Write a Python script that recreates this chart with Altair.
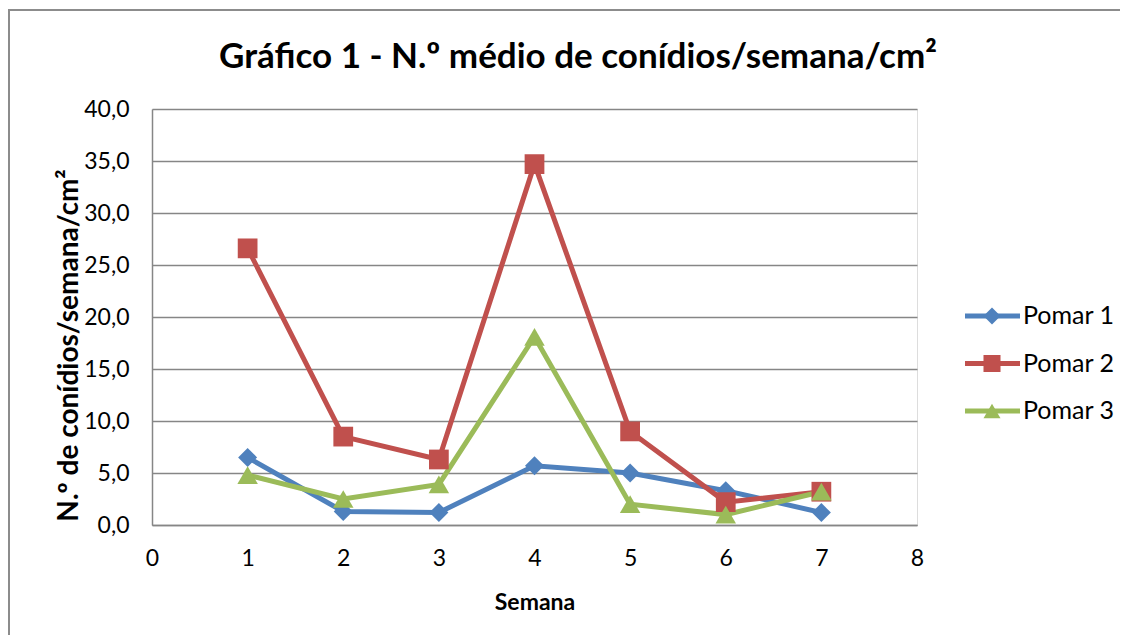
import altair as alt
import pandas as pd

weeks = [1, 2, 3, 4, 5, 6, 7]
series_names = ["Pomar 1", "Pomar 2", "Pomar 3"]
legend_order = [0, 1, 2]
pomar1 = [6.5, 1.3, 1.2, 5.7, 5.0, 3.3, 1.2]
pomar2 = [26.6, 8.5, 6.3, 34.7, 9.0, 2.2, 3.2]
pomar3 = [4.8, 2.5, 3.9, 18.1, 2.0, 1.0, 3.2]
colors = ["#4F81BD", "#C0504D", "#9BBB59"]
shapes = ["diamond", "square", "triangle-up"]
marker_sizes = [360, 420, 420]
x_ticks = [0, 1, 2, 3, 4, 5, 6, 7, 8]
y_ticks = [0, 5, 10, 15, 20, 25, 30, 35, 40]
title_text = ["Gráfico 1 - N.º médio de conídios/semana/cm²"]

rows = []
for name, vals in zip(series_names, [pomar1, pomar2, pomar3]):
    for w, v in zip(weeks, vals):
        rows.append({"Semana": w, "valor": v, "serie": name})
df = pd.DataFrame(rows)
leg_df = pd.DataFrame({"serie": series_names, "ordem": legend_order})
one = pd.DataFrame({"k": [0]})
title_df = pd.DataFrame({"t": title_text})

FONT = "Lato"
GRID = "#868686"

color_scale = alt.Scale(domain=series_names, range=colors)
shape_scale = alt.Scale(domain=series_names, range=shapes)
size_scale = alt.Scale(domain=series_names, range=marker_sizes)
x_scale = alt.Scale(domain=[0, 8], nice=False)
y_scale = alt.Scale(domain=[0, 40], nice=False)

x_enc = alt.X("Semana:Q", scale=x_scale,
              axis=alt.Axis(values=x_ticks, format="d", title="Semana", grid=False, ticks=False,
                            labelFlush=False,
                            labelFontSize=23, labelPadding=22, labelColor="#000",
                            titleFontSize=23, titleFontWeight="bold",
                            titleX=382.5, titleY=77, titleBaseline="middle", titleAlign="center",
                            titleColor="#000",
                            domainColor=GRID, domainWidth=1.5, labelFont=FONT, titleFont=FONT))
y_enc = alt.Y("valor:Q", scale=y_scale,
              axis=alt.Axis(values=y_ticks, title="N.º de conídios/semana/cm²",
                            labelExpr="replace(format(datum.value, '.1f'), '.', ',')",
                            grid=True, gridColor=GRID, gridWidth=1.5, ticks=False,
                            labelFontSize=23, labelPadding=23, labelColor="#000",
                            labelFlush=False,
                            titleFontSize=28, titleFontWeight="bold",
                            titleX=-83, titleY=236, titleBaseline="middle", titleAlign="center",
                            titleColor="#000",
                            domainColor=GRID, domainWidth=1.5, labelFont=FONT, titleFont=FONT))

lines = alt.Chart(df).mark_line(strokeWidth=5).encode(
    x=x_enc, y=y_enc,
    color=alt.Color("serie:N", scale=color_scale, legend=None),
    detail="serie:N",
)
points = alt.Chart(df).mark_point(filled=True, opacity=1).encode(
    x=alt.X("Semana:Q", scale=x_scale),
    y=alt.Y("valor:Q", scale=y_scale),
    color=alt.Color("serie:N", scale=color_scale, legend=None),
    shape=alt.Shape("serie:N", scale=shape_scale, legend=None),
    size=alt.Size("serie:N", scale=size_scale, legend=None),
)
main = alt.layer(lines, points)

leg_y = alt.Y("ordem:Q", scale=alt.Scale(domain=[0, 2], range=[207, 302], nice=False, zero=False),
              axis=None)
leg_rule = alt.Chart(leg_df).mark_rule(strokeWidth=5).encode(
    x=alt.value(813), x2=alt.value(868), y=leg_y,
    color=alt.Color("serie:N", scale=color_scale, legend=None),
)
leg_pt = alt.Chart(leg_df).mark_point(filled=True, opacity=1, size=290).encode(
    x=alt.value(840), y=leg_y,
    color=alt.Color("serie:N", scale=color_scale, legend=None),
    shape=alt.Shape("serie:N", scale=shape_scale, legend=None),
)
leg_txt = alt.Chart(leg_df).mark_text(align="left", baseline="middle", fontSize=25,
                                      font=FONT, color="#000").encode(
    x=alt.value(871), y=leg_y, text="serie:N",
)
legend = alt.layer(leg_rule, leg_pt, leg_txt)

# outer chart frame: only its top and left edges fall inside the page
frame = alt.Chart(one).mark_rect(fill=None, stroke="#8C8C8C", strokeWidth=2).encode(
    x=alt.value(-143), x2=alt.value(1000), y=alt.value(-99), y2=alt.value(560))
title = alt.Chart(title_df).mark_text(fontSize=35, fontWeight="bold", font=FONT, color="#000",
                                      align="center", baseline="alphabetic").encode(
    x=alt.value(426), y=alt.value(-41), text="t:N")
deco = alt.layer(frame, title)

chart = alt.layer(deco, main, legend).resolve_scale(
    y="independent"
).properties(
    width=765, height=416,
    autosize=alt.AutoSizeParams(type="none"),
    padding={"left": 144, "top": 101, "right": 203, "bottom": 110},
).configure_view(stroke=None).configure(background="white")

chart.save("out.html", embed_options={"renderer": "svg", "actions": False})
